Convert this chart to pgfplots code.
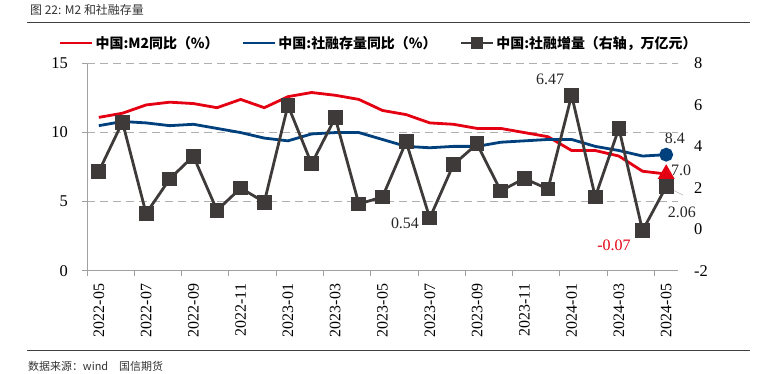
\documentclass[border=0pt]{standalone}
\usepackage{fontspec}
\setmainfont{Liberation Serif}
\newfontfamily\cjk{Noto Sans CJK SC}
\usepackage{pgfplots}
\usepackage{pgfplotstable}
\pgfplotsset{compat=1.18}
\definecolor{cred}{RGB}{228,0,18}
\definecolor{cblue}{RGB}{0,65,125}
\definecolor{cblack}{RGB}{62,58,57}
\definecolor{cgrid}{RGB}{175,175,175}
\definecolor{caxis}{RGB}{160,160,160}
\pgfplotstableread{
x m2 sf inc
0 11.1 10.5 2.79
1 11.4 10.8 5.17
2 12.0 10.7 0.76
3 12.2 10.5 2.43
4 12.1 10.6 3.53
5 11.8 10.3 0.91
6 12.4 10.0 1.99
7 11.8 9.6 1.31
8 12.6 9.4 5.98
9 12.9 9.9 3.16
10 12.7 10.0 5.38
11 12.4 10.0 1.22
12 11.6 9.5 1.56
13 11.3 9.0 4.22
14 10.7 8.9 0.54
15 10.6 9.0 3.12
16 10.3 9.0 4.12
17 10.3 9.3 1.85
18 10.0 9.4 2.45
19 9.7 9.5 1.94
20 8.7 9.5 6.47
21 8.7 9.0 1.56
22 8.3 8.7 4.87
23 7.2 8.3 -0.07
24 7.0 8.4 2.06
}\data
\begin{document}
\begin{tikzpicture}
\path[use as bounding box] (0bp,0bp) rectangle (757bp,-374bp);
\node[anchor=west, inner sep=0pt, font=\cjk\fontsize{12}{14}\selectfont, text=black!80] at (30bp,-10bp) {图 22: M2 和社融存量};
\draw[black!75, line width=0.8bp] (27bp,-22.7bp) -- (750bp,-22.7bp);
\draw[black!75, line width=0.8bp] (27bp,-350.5bp) -- (750bp,-350.5bp);
\node[anchor=west, inner sep=0pt, font=\cjk\fontsize{11}{13}\selectfont, text=black!80] at (28bp,-366.5bp) {数据来源：wind\quad 国信期货};

\begin{axis}[
  at={(87bp,-270.7bp)}, anchor=south west,
  scale only axis, width=591bp, height=207.2bp,
  xmin=-0.5, xmax=24.5, ymin=0, ymax=15,
  clip=false,
  axis x line*=bottom, axis y line*=left,
  axis line style={caxis, line width=0.8bp},
  tick align=outside,
  xtick={0,2,...,24},
  xticklabels={2022-05,2022-07,2022-09,2022-11,2023-01,2023-03,2023-05,2023-07,2023-09,2023-11,2024-01,2024-03,2024-05},
  minor xtick={-0.5,1.5,...,23.5},
  major x tick style={draw=none},
  minor x tick style={caxis, line width=0.8bp},
  minor tick length=5bp,
  major tick length=5bp,
  ytick={0,5,10,15},
  yticklabels={0,5,10,15},
  y tick style={caxis, line width=0.8bp},
  ymajorgrids,
  grid style={cgrid, dashed, dash pattern=on 8bp off 5bp, line width=0.9bp},
  xticklabel style={font=\fontsize{16}{18}\selectfont, rotate=90, anchor=east, inner sep=0pt},
  xticklabel shift=8bp,
  yticklabel style={font=\fontsize{16.5}{18}\selectfont, inner sep=0pt},
  yticklabel shift=14bp,
  legend style={at={(-0.048,1.099)}, anchor=west, draw=none, fill=none, inner sep=0pt,
    font=\cjk\fontsize{14}{16}\selectfont, legend columns=3,
    /tikz/every even column/.append style={column sep=21bp}},
  legend image code/.code={\draw[mark repeat=2,mark phase=2,#1] plot coordinates {(0bp,0bp) (16bp,0bp) (32bp,0bp)};},
]
\addlegendimage{cred, line width=2.8bp}
\addlegendentry{\textbf{中国:M2同比（\%）}}
\addlegendimage{cblue, line width=2.8bp}
\addlegendentry{\textbf{中国:社融存量同比（\%）}}
\addlegendimage{cblack, line width=2.8bp, mark=square*, mark size=5bp}
\addlegendentry{\textbf{中国:社融增量（右轴，万亿元）}}
\addplot[cred, line width=2.8bp, forget plot, mark=triangle*, mark size=7bp, mark indices={25}] table[x=x,y=m2]{\data};
\addplot[cblue, line width=2.8bp, forget plot, mark=*, mark size=5.5bp, mark indices={25}] table[x=x,y=sf]{\data};
\end{axis}

\begin{axis}[
  at={(87bp,-270.7bp)}, anchor=south west,
  scale only axis, width=591bp, height=207.2bp,
  xmin=-0.5, xmax=24.5, ymin=-2, ymax=8,
  clip=false,
  hide x axis,
  axis y line*=right,
  y axis line style={draw=none},
  ytick={-2,0,2,4,6,8},
  yticklabels={-2,0,2,4,6,8},
  ytick style={draw=none},
  yticklabel style={font=\fontsize{16.5}{18}\selectfont, inner sep=0pt},
  yticklabel shift=16bp,
]
\addplot[cblack, line width=2.8bp, mark=square*, mark size=6bp, mark options={solid}] table[x=x,y=inc]{\data};
\draw[gray!70, line width=0.5bp] (axis cs:24,2.06) -- (axis cs:24.71,1.65);
\node[font=\fontsize{16}{18}\selectfont, text=black!85] at (axis cs:19.09,7.24) {6.47};
\node[font=\fontsize{16}{18}\selectfont, text=black!85] at (axis cs:12.95,0.30) {0.54};
\node[font=\fontsize{16}{18}\selectfont, text=cred] at (axis cs:21.79,-0.76) {-0.07};
\node[font=\fontsize{16}{18}\selectfont, text=black!85] at (axis cs:24.66,0.82) {2.06};
\node[font=\fontsize{16}{18}\selectfont, text=black!85] at (axis cs:24.37,4.39) {8.4};
\node[font=\fontsize{16}{18}\selectfont, text=black!85] at (axis cs:24.63,2.86) {7.0};
\end{axis}
\end{tikzpicture}
\end{document}
